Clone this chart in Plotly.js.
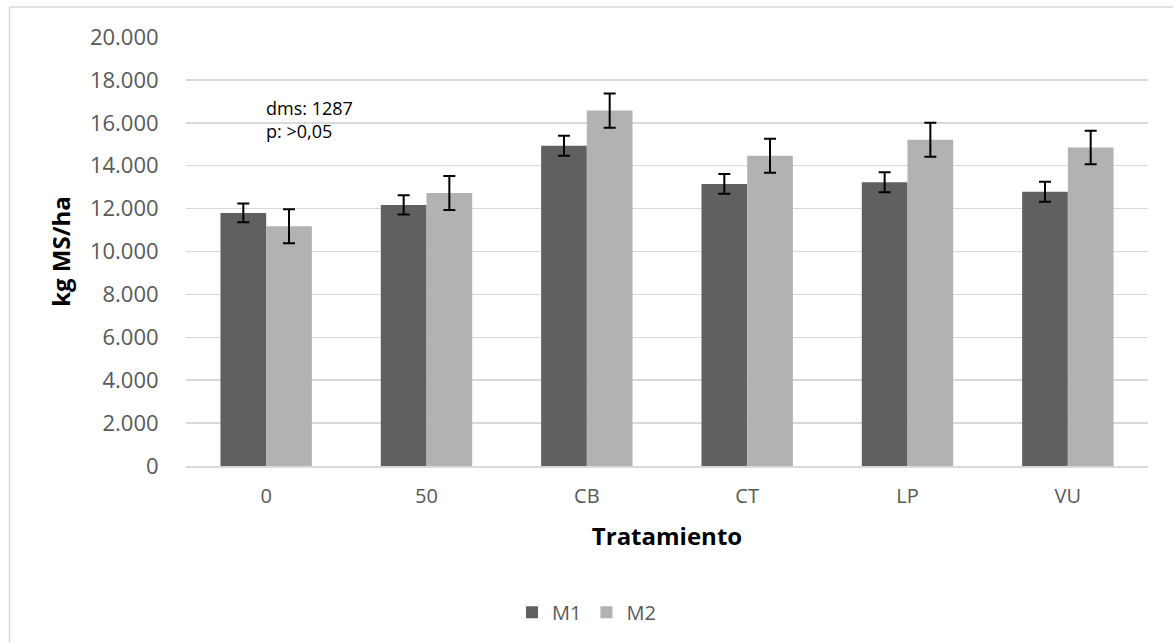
<!DOCTYPE html>
<html>
<head>
<meta charset="utf-8">
<script src="https://cdn.plot.ly/plotly-3.0.1.min.js"></script>
<style>html,body{margin:0;padding:0;background:#fff;}#chart{width:1173px;height:643px;}</style>
</head>
<body>
<div id="chart"></div>
<script>
const categories = ["0", "50", "CB", "CT", "LP", "VU"];
const m1Values = [11800, 12170, 14930, 13150, 13225, 12790];
const m2Values = [11180, 12730, 16570, 14465, 15210, 14850];
const m1Errors = [440, 450, 465, 460, 465, 465];
const m2Errors = [790, 790, 800, 790, 790, 780];
const yTickVals = [0, 2000, 4000, 6000, 8000, 10000, 12000, 14000, 16000, 18000, 20000];
const yTickText = ["0", "2.000", "4.000", "6.000", "8.000", "10.000", "12.000", "14.000", "16.000", "18.000", "20.000"];

const FONT = "Open Sans, Liberation Sans, sans-serif";
const TXT = "#595959";

const errStyle = {type: "data", visible: true, color: "#000000", thickness: 2, width: 6};

const traces = [
  {type: "bar", name: "M1", x: categories, y: m1Values,
   marker: {color: "#606060"},
   error_y: Object.assign({array: m1Errors}, errStyle)},
  {type: "bar", name: "M2", x: categories, y: m2Values,
   marker: {color: "#b2b2b2"},
   error_y: Object.assign({array: m2Errors}, errStyle)}
];

const layout = {
  width: 1173, height: 643,
  margin: {l: 186, r: 25, t: 37, b: 177, pad: 0},
  paper_bgcolor: "#ffffff", plot_bgcolor: "#ffffff",
  font: {family: FONT, color: TXT},
  barmode: "group", bargap: 0.43, bargroupgap: 0,
  showlegend: true,
  legend: {orientation: "h", xref: "container", yref: "container", x: 0.5, xanchor: "center",
           y: 0.048, yanchor: "middle", font: {size: 20, color: TXT, family: FONT},
           itemwidth: 30, traceorder: "normal"},
  xaxis: {
    type: "category", showgrid: false, zeroline: false,
    showline: true, linecolor: "#d9d9d9", linewidth: 1.5,
    ticks: "outside", ticklen: 11, tickcolor: "rgba(0,0,0,0)",
    tickfont: {size: 20, color: TXT, family: FONT},
    title: {text: "Tratamiento", font: {size: 24, color: "#000000", family: FONT, weight: "bold"}, standoff: 20}
  },
  yaxis: {
    range: [0, 20000], tickvals: yTickVals, ticktext: yTickText,
    showgrid: true, gridcolor: "#d9d9d9", gridwidth: 1.5, zeroline: false, showline: false,
    ticks: "outside", ticklen: 22, tickcolor: "rgba(0,0,0,0)",
    tickfont: {size: 22, color: TXT, family: FONT},
    title: {text: "kg MS/ha", font: {size: 24, color: "#000000", family: FONT, weight: "bold"}, standoff: 12}
  },
  annotations: [
    {xref: "paper", yref: "paper", x: (264 - 186) / 962, y: (466 - 108) / 429, xanchor: "left", yanchor: "middle",
     text: "dms: 1287", showarrow: false, font: {size: 18, color: "#000000", family: FONT}},
    {xref: "paper", yref: "paper", x: (264 - 186) / 962, y: (466 - 131) / 429, xanchor: "left", yanchor: "middle",
     text: "p: >0,05", showarrow: false, font: {size: 18, color: "#000000", family: FONT}}
  ],
  shapes: [
    {type: "line", xref: "paper", yref: "paper", x0: (9.5 - 186) / 962, x1: 1.2, y0: (466 - 7) / 429, y1: (466 - 7) / 429,
     line: {color: "#d9d9d9", width: 1.5}},
    {type: "line", xref: "paper", yref: "paper", x0: (9.5 - 186) / 962, x1: (9.5 - 186) / 962, y0: (466 - 7) / 429, y1: -1,
     line: {color: "#d9d9d9", width: 1.5}}
  ]
};

Plotly.newPlot("chart", traces, layout, {displayModeBar: false, staticPlot: true});
</script>
</body>
</html>
